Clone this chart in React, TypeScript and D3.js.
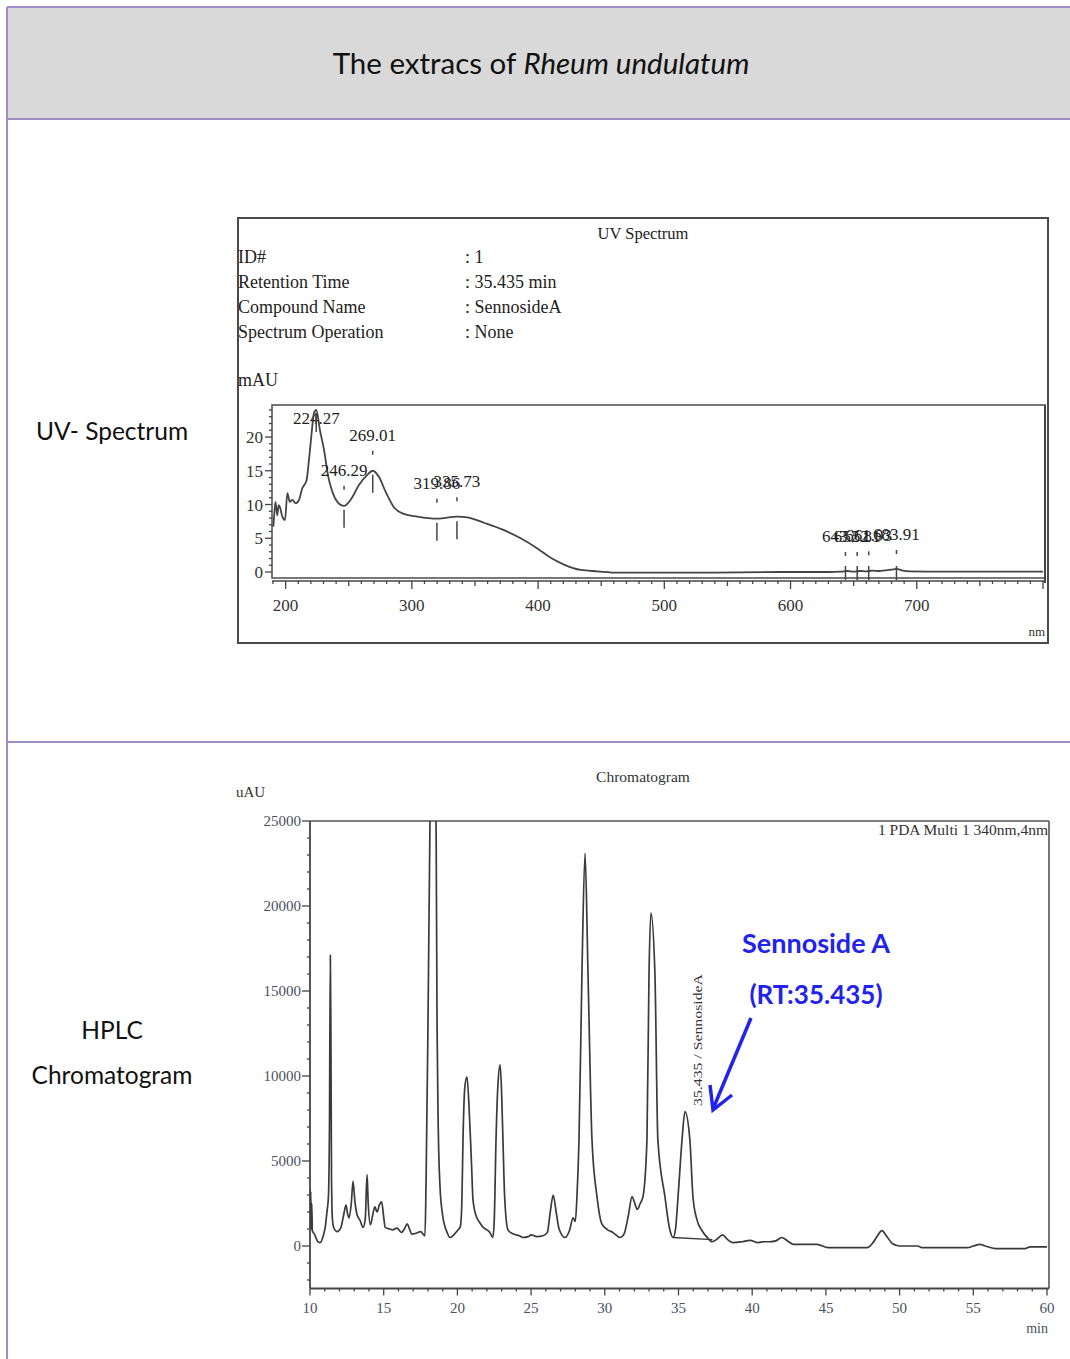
import React from 'react';
import * as d3 from 'd3';

// UV spectrum of the Sennoside A peak (nm, mAU)
const uvWavelength = [190.3, 191.2, 192, 193.4, 194.5, 195.5, 197.4, 199.5, 201.4, 203.2, 205.3, 207.9, 210.6, 213.2, 216.6, 218.5, 220.6, 222.4, 224.3, 227.2, 230.4, 233.8, 237, 241, 246.3, 251.5, 258.1, 264.7, 269.0, 273.9, 279.2, 285.8, 293.7, 304.3, 320.2, 336, 344, 357.1, 373, 386.2, 399.4, 410, 420.5, 433.8, 447, 462.8, 480, 520, 560, 600, 630, 640, 645, 650, 655, 660, 665, 670, 675, 680, 684, 688, 695, 720, 760, 800];
const uvAbsorbance = [6.7, 9.0, 10.4, 8.4, 9.9, 9.6, 8.2, 7.7, 11.7, 10.4, 10.7, 10.2, 10.7, 12.4, 13.6, 16.6, 20.6, 23.5, 24.0, 21.0, 18.1, 14.1, 11.9, 10.4, 9.8, 10.7, 12.9, 14.4, 15.0, 14.1, 11.9, 9.6, 8.6, 8.2, 7.9, 8.2, 8.1, 7.3, 6.2, 5.0, 3.5, 2.1, 1.1, 0.3, 0.1, -0.1, -0.1, -0.1, -0.05, 0, 0, 0.05, 0.15, 0.05, 0.15, 0.1, 0.2, 0.15, 0.25, 0.35, 0.45, 0.25, 0.1, 0.05, 0.05, 0.05];

const uvPeakWavelength = [224.27, 246.29, 269.01, 319.86, 335.73, 643.52, 652.81, 661.93, 683.91];
const uvPeakValue = [24.0, 9.8, 15.0, 7.9, 8.1, 0.0, 0.0, 0.1, 0.3];

const uvXTicks = [200, 300, 400, 500, 600, 700];
const uvYTicks = [0, 5, 10, 15, 20];

const infoKeys = ['ID#', 'Retention Time', 'Compound Name', 'Spectrum Operation'];
const infoValues = [': 1', ': 35.435 min', ': SennosideA', ': None'];

// HPLC chromatogram, 340 nm (min, uAU)
const hplcTime = [10.0, 10.02, 10.05, 10.08, 10.12, 10.16, 10.3, 10.5, 10.68, 10.9, 11.05, 11.15, 11.25, 11.32, 11.38, 11.42, 11.46, 11.52, 11.6, 11.83, 12.1, 12.3, 12.44, 12.55, 12.65, 12.8, 12.92, 13.05, 13.19, 13.4, 13.6, 13.75, 13.87, 13.95, 14.1, 14.25, 14.4, 14.55, 14.7, 14.86, 15.0, 15.1, 15.4, 15.6, 15.9, 16.2, 16.4, 16.6, 16.75, 16.9, 17.2, 17.5, 17.8, 17.87, 18.0, 18.14, 18.3, 18.45, 18.56, 18.62, 18.7, 18.82, 19.0, 19.3, 19.5, 19.8, 20.05, 20.2, 20.3, 20.38, 20.5, 20.65, 20.8, 20.95, 21.06, 21.3, 21.5, 21.75, 22.0, 22.2, 22.4, 22.5, 22.62, 22.75, 22.9, 23.0, 23.09, 23.2, 23.43, 23.8, 24.2, 24.45, 24.8, 25.0, 25.4, 25.8, 26.1, 26.3, 26.5, 26.7, 26.9, 27.3, 27.6, 27.85, 28.0, 28.11, 28.25, 28.45, 28.66, 28.86, 29.13, 29.47, 29.8, 30.2, 30.55, 31.03, 31.3, 31.6, 31.85, 32.0, 32.2, 32.4, 32.59, 32.86, 33.0, 33.13, 33.4, 33.6, 34.08, 34.4, 34.63, 34.8, 34.97, 35.24, 35.44, 35.77, 35.98, 36.25, 36.6, 36.9, 37.3, 37.6, 38.0, 38.3, 38.7, 39.3, 39.85, 40.4, 40.8, 41.2, 41.6, 42.0, 42.4, 42.8, 43.5, 44.4, 45.15, 46.5, 47.8, 48.2, 48.5, 48.8, 49.1, 49.5, 50.0, 51.25, 51.5, 53.0, 54.6, 55.0, 55.45, 55.8, 56.5, 57.5, 58.5, 58.85, 60.0];
const hplcSignal = [3400, 1500, 3200, 1000, 2500, 900, 700, 300, 200, 600, 1200, 2000, 2900, 7000, 17100, 12000, 4000, 1600, 1100, 850, 1100, 1900, 2400, 1900, 1650, 2500, 3800, 2600, 1850, 1500, 1100, 1600, 4200, 2500, 1250, 1800, 2300, 2000, 2400, 2600, 1700, 1100, 1000, 950, 1050, 800, 1000, 1300, 1000, 700, 750, 850, 600, 3500, 12700, 25000, 34000, 30000, 23900, 13000, 7000, 3500, 1800, 800, 500, 700, 950, 1150, 2500, 6250, 9300, 9950, 8000, 5000, 2700, 1700, 1400, 1100, 950, 800, 500, 1500, 6250, 9500, 10650, 9000, 6250, 3000, 950, 700, 600, 500, 550, 650, 550, 600, 800, 2000, 3000, 2000, 1000, 500, 900, 1650, 1450, 2900, 6250, 16050, 23100, 16050, 6250, 2900, 1300, 950, 800, 500, 700, 1800, 2900, 2600, 2150, 2500, 2900, 6250, 16050, 19600, 16050, 6250, 2900, 1000, 500, 1000, 2900, 6250, 7900, 6250, 2900, 1550, 900, 550, 250, 400, 650, 400, 200, 250, 330, 200, 250, 250, 300, 500, 300, 100, 100, 100, -100, -100, -100, 200, 600, 900, 600, 150, 0, 0, -100, -100, -100, 0, 100, 0, -150, -150, -150, -50, -50];

const hplcXTicks = [10, 15, 20, 25, 30, 35, 40, 45, 50, 55, 60];
const hplcYTicks = [0, 5000, 10000, 15000, 20000, 25000];
const sennosideBaseline = [[34.63, 500], [37.3, 380]];

const serif = '"Liberation Serif", "Times New Roman", serif';
const sans = 'Lato, Calibri, "Open Sans", sans-serif';
const frame = '#a08cc6';
const blue = '#2222ee';

function UVSpectrum() {
  const x = d3.scaleLinear().domain([190, 800]).range([273, 1043]);
  const y = d3.scaleLinear().domain([-1, 24.7]).range([578.75, 405.3]);
  const left = 272, right = 1045, top = 405, bottom = 578, axisY = 581;
  const line = d3.line<number>()
    .x((d, i) => x(uvWavelength[i]))
    .y(d => y(d))
    .curve(d3.curveMonotoneX);
  const minorX = d3.range(190, 801, 10);
  const minorY = d3.range(0, 25, 1);
  return (
    <g>
      <rect x={238} y={218} width={810} height={425} fill="white" stroke="#4a4a4a" strokeWidth={2} />
      <text x={643} y={239} textAnchor="middle" fontFamily={serif} fontSize={16.5} fill="#222">UV Spectrum</text>
      {infoKeys.map((k, i) => (
        <g key={k}>
          <text x={238} y={263 + i * 25} fontFamily={serif} fontSize={18} fill="#222">{k}</text>
          <text x={465} y={263 + i * 25} fontFamily={serif} fontSize={18} fill="#222">{infoValues[i]}</text>
        </g>
      ))}
      <text x={238} y={386} fontFamily={serif} fontSize={18} fill="#222">mAU</text>
      <rect x={left} y={top} width={right - left} height={bottom - top} fill="none" stroke="#555" strokeWidth={1.6} />
      <line x1={left} x2={right} y1={axisY} y2={axisY} stroke="#444" strokeWidth={1.6} />
      <line x1={right} x2={right} y1={top} y2={axisY + 2} stroke="#444" strokeWidth={2} />
      {minorX.map(v => {
        const len = v % 100 === 0 ? 8 : v % 50 === 0 ? 5 : 3;
        return <line key={'mx' + v} x1={x(v)} x2={x(v)} y1={axisY} y2={axisY + len} stroke="#444" strokeWidth={1.3} />;
      })}
      {uvXTicks.map(v => (
        <text key={'tx' + v} x={x(v)} y={611} textAnchor="middle" fontFamily={serif} fontSize={17} fill="#333">{v}</text>
      ))}
      {minorY.map(v => (
        <line key={'my' + v} x1={left} x2={left - (v % 5 === 0 ? 7 : 3)} y1={y(v)} y2={y(v)} stroke="#444" strokeWidth={1.3} />
      ))}
      {uvYTicks.map(v => (
        <text key={'ty' + v} x={263} y={y(v) + 6} textAnchor="end" fontFamily={serif} fontSize={17} fill="#333">{v}</text>
      ))}
      <text x={1045} y={636} textAnchor="end" fontFamily={serif} fontSize={13} fill="#333">nm</text>
      <path d={line(uvAbsorbance) || ''} fill="none" stroke="#444" strokeWidth={1.8} />
      {uvPeakWavelength.map((w, i) => {
        const px = x(w);
        const py = y(uvPeakValue[i]);
        const ly = Math.max(py - 36, top + 13);
        const dotY = py - 18;
        const d1 = Math.min(py + 4, bottom - 12);
        const d2 = Math.min(py + 22, bottom + 2);
        return (
          <g key={'pk' + i}>
            <text x={px} y={ly + 6} textAnchor="middle" fontFamily={serif} fontSize={17} fill="#222">{w.toFixed(2)}</text>
            {dotY > top + 20 && <line x1={px} x2={px} y1={dotY - 2} y2={dotY + 2} stroke="#444" strokeWidth={1.5} />}
            <line x1={px} x2={px} y1={d1} y2={d2} stroke="#444" strokeWidth={1.5} />
          </g>
        );
      })}
    </g>
  );
}

function Chromatogram() {
  const x = d3.scaleLinear().domain([10, 60]).range([310, 1047]);
  const y = d3.scaleLinear().domain([-2500, 25000]).range([1288.5, 821]);
  const left = 310, right = 1049, top = 821, bottom = 1288.5;
  const line = d3.line<number>()
    .x((d, i) => x(hplcTime[i]))
    .y(d => y(d))
    .curve(d3.curveMonotoneX);
  const minorX = d3.range(10, 61, 1);
  const minorY = d3.range(-2000, 25001, 1000);
  const tickCol = '#4a5060';
  return (
    <g>
      <defs>
        <clipPath id="hplc-clip">
          <rect x={left} y={top} width={right - left} height={bottom - top} />
        </clipPath>
      </defs>
      <text x={643} y={782} textAnchor="middle" fontFamily={serif} fontSize={15.5} fill="#333">Chromatogram</text>
      <text x={236} y={797} fontFamily={serif} fontSize={15} fill="#333">uAU</text>
      <text x={1048} y={835} textAnchor="end" fontFamily={serif} fontSize={15.5} fill="#333">1 PDA Multi 1 340nm,4nm</text>
      <line x1={left} x2={right} y1={top} y2={top} stroke="#555" strokeWidth={1.6} />
      <line x1={right} x2={right} y1={top} y2={bottom} stroke="#555" strokeWidth={1.6} />
      <line x1={left} x2={left} y1={top} y2={bottom} stroke="#444" strokeWidth={1.8} />
      <line x1={left} x2={right} y1={bottom} y2={bottom} stroke="#444" strokeWidth={1.8} />
      {minorX.map(v => (
        <line key={'mx' + v} x1={x(v)} x2={x(v)} y1={bottom} y2={bottom + (v % 5 === 0 ? 7 : 3)} stroke="#444" strokeWidth={1.3} />
      ))}
      {hplcXTicks.map(v => (
        <text key={'tx' + v} x={x(v)} y={1313} textAnchor="middle" fontFamily={serif} fontSize={15} fill={tickCol}>{v}</text>
      ))}
      {minorY.map(v => (
        <line key={'my' + v} x1={left} x2={left - (v % 5000 === 0 ? 8 : 3)} y1={y(v)} y2={y(v)} stroke="#444" strokeWidth={1.3} />
      ))}
      {hplcYTicks.map(v => (
        <text key={'ty' + v} x={301} y={y(v) + 5} textAnchor="end" fontFamily={serif} fontSize={15} fill={tickCol}>{v}</text>
      ))}
      <text x={1048} y={1333} textAnchor="end" fontFamily={serif} fontSize={14} fill={tickCol}>min</text>
      <g clipPath="url(#hplc-clip)">
        <path d={line(hplcSignal) || ''} fill="none" stroke="#3a3a3a" strokeWidth={1.7} />
        <line x1={x(sennosideBaseline[0][0])} y1={y(sennosideBaseline[0][1])} x2={x(sennosideBaseline[1][0])} y2={y(sennosideBaseline[1][1])} stroke="#3a3a3a" strokeWidth={1.3} />
      </g>
      <text transform={`translate(${x(35.435) + 17},1040) rotate(-90)`} textAnchor="middle" fontFamily={serif} fontSize={12} textLength={132} lengthAdjust="spacingAndGlyphs" fill="#333">35.435 / SennosideA</text>
      <text x={816} y={953} textAnchor="middle" fontFamily={sans} fontSize={27} fontWeight="bold" fill={blue}>Sennoside A</text>
      <text x={816} y={1004} textAnchor="middle" fontFamily={sans} fontSize={26} fontWeight="bold" fill={blue}>(RT:35.435)</text>
      <line x1={751} y1={1018} x2={713} y2={1109} stroke={blue} strokeWidth={3.5} />
      <polyline points="710,1085 713,1110 732,1095" fill="none" stroke={blue} strokeWidth={3.5} strokeLinejoin="miter" />
    </g>
  );
}

export default function App() {
  return (
    <svg width={1070} height={1359} style={{ position: 'absolute', left: 0, top: 0, background: 'white' }}>
      <rect x={0} y={0} width={1070} height={1359} fill="white" />
      <rect x={7} y={7} width={1070} height={112} fill="#d9d9d9" />
      <line x1={7} x2={1070} y1={7} y2={7} stroke={frame} strokeWidth={2} />
      <line x1={7} x2={1070} y1={119} y2={119} stroke={frame} strokeWidth={2} />
      <line x1={7} x2={1070} y1={742} y2={742} stroke={frame} strokeWidth={2} />
      <line x1={7} x2={7} y1={7} y2={1359} stroke={frame} strokeWidth={2} />
      <text x={541} y={74} textAnchor="middle" fontFamily={sans} fontSize={29.5} fill="#111">
        <tspan>The extracs of </tspan>
        <tspan fontStyle="italic">Rheum undulatum</tspan>
      </text>
      <text x={112} y={440} textAnchor="middle" fontFamily={sans} fontSize={24.5} fill="#111">UV- Spectrum</text>
      <text x={112} y={1039} textAnchor="middle" fontFamily={sans} fontSize={24.5} fill="#111">HPLC</text>
      <text x={112} y={1084} textAnchor="middle" fontFamily={sans} fontSize={24.5} fill="#111">Chromatogram</text>
      <UVSpectrum />
      <Chromatogram />
    </svg>
  );
}
